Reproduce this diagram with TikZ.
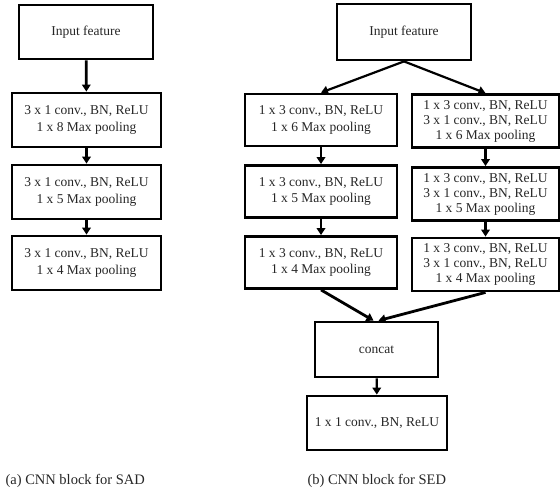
\documentclass[tikz,border=0pt]{standalone}
\usepackage{fontspec}
\setmainfont{Liberation Serif}
\usetikzlibrary{arrows.meta}

\begin{document}
\begin{tikzpicture}[x=1pt, y=-1pt, >={Triangle[length=7pt,width=8.5pt]},
    box/.style = {draw, line width=2.8pt, align=center, inner sep=0pt,
        font=\fontsize{13.5}{16.5}\selectfont, text=black!85},
    convbox/.style = {box, minimum width=149pt, minimum height=54pt},
    sedbox/.style = {box, minimum width=148pt, minimum height=53pt,
        font=\fontsize{13.5}{15}\selectfont},
    link/.style = {->, line width=2.2pt},
    caption/.style = {anchor=west, font=\fontsize{14.5}{17}\selectfont, text=black!85}]

    \useasboundingbox (0,0) rectangle (560,493);

    %%%%%%%%%% (a) SAD %%%%%%%%%%%%%%%%%%%
    \node [box, minimum width=134pt, minimum height=54pt] (inA) at (86,32) {Input feature};
    \foreach \n/\y/\k in {1/120/8, 2/192/5, 3/263/4} {
        \node [convbox] (sad\n) at (86.5,\y) {3 x 1 conv., BN, ReLU\\1 x \k{} Max pooling};
    }
    \draw [link, line width=2.8pt] (inA) -- (sad1);
    \draw [link] (sad1) -- (sad2);
    \draw [link] (sad2) -- (sad3);

    %%%%%%%%%% (b) SED %%%%%%%%%%%%%%%%%%%
    \node [box, minimum width=134pt, minimum height=56pt] (inB) at (404,32) {Input feature};
    \foreach \n/\y/\k in {1/120/6, 2/191.5/5, 3/262.5/4} {
        \node [convbox, minimum width=152pt, minimum height=52pt] (sedL\n) at (321,\y)
            {1 x 3 conv., BN, ReLU\\1 x \k{} Max pooling};
    }
    \foreach \n/\y/\k in {1/121/6, 2/194/5, 3/264.5/4} {
        \node [sedbox, minimum width=147pt] (sedR\n) at (485.5,\y)
            {1 x 3 conv., BN, ReLU\\3 x 1 conv., BN, ReLU\\1 x \k{} Max pooling};
    }
    \node [box, minimum width=123pt, minimum height=55pt] (cat) at (376.5,349.5) {concat};
    \node [box, minimum width=140pt, minimum height=54pt] (out) at (377,423) {1 x 1 conv., BN, ReLU};

    \draw [link] (inB.south) -- (sedL1.north);
    \draw [link] (inB.south) -- (sedR1.north);
    \draw [link] (sedL1) -- (sedL2);
    \draw [link] (sedL2) -- (sedL3);
    \draw [link] (sedR1) -- (sedR2);
    \draw [link] (sedR2) -- (sedR3);
    \draw [link, line width=2.8pt] (sedL3.south) -- ([xshift=-3pt]cat.north);
    \draw [link, line width=2.8pt] (sedR3.south) -- ([xshift=2pt]cat.north);
    \draw [link] (cat) -- (out);

    % captions
    \node [caption] (capA) at (2,481) {(a) CNN block for SAD};
    \node [caption] (capB) at (304,481) {(b) CNN block for SED};
\end{tikzpicture}
\end{document}
